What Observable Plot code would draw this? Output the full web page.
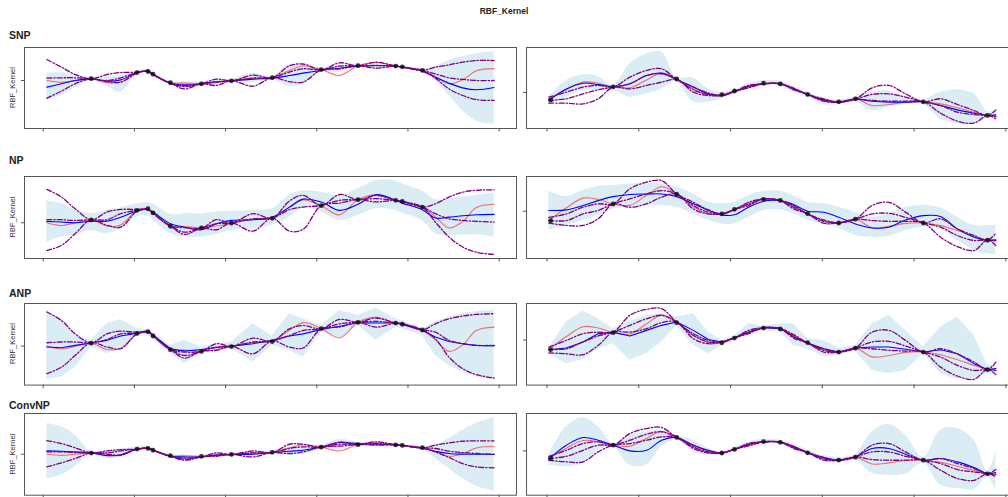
<!DOCTYPE html>
<html><head><meta charset="utf-8">
<script src="https://cdn.jsdelivr.net/npm/d3@7"></script>
<script src="https://cdn.jsdelivr.net/npm/@observablehq/plot@0.6"></script>
<style>
html,body{margin:0;padding:0;background:#fff}
body{width:1008px;height:497px;overflow:hidden;position:relative;font-family:"Liberation Sans",Arial,sans-serif}
</style></head><body>
<script>
// ---------- shared x ticks ----------
const xTicks = [0, 1, 2, 3, 4, 5];
const yTicks = [0];
const rowTitles = ["SNP", "NP", "ANP", "ConvNP"];
const yLabel = "RBF_Kernel";
const mainTitle = "RBF_Kernel";

// ---------- left task ----------
const xLeft = [0.04, 0.2, 0.35, 0.527, 0.7, 0.85, 1.029, 1.149, 1.204, 1.395, 1.55, 1.735, 1.9, 2.064, 2.3, 2.511, 2.7, 2.85, 3.049, 3.25, 3.452, 3.65, 3.865, 3.938, 4.158, 4.3, 4.45, 4.6, 4.75, 4.945];
const redLeft = [0, -0.12, -0.01, 0.12, -0.14, -0.1, 0.53, 0.6, 0.42, -0.15, -0.16, -0.22, -0.14, -0.02, 0.14, 0.19, 0.66, 0.98, 0.73, 0.34, 0.99, 1.2, 0.96, 0.91, 0.67, 0.26, -0.22, 0.05, 0.65, 0.79];
const ctxXLeft = [0.527, 1.029, 1.149, 1.204, 1.395, 1.735, 2.064, 2.511, 3.049, 3.452, 3.865, 3.938, 4.158];
const ctxYLeft = [0.12, 0.53, 0.6, 0.42, -0.15, -0.22, -0.02, 0.19, 0.73, 0.99, 0.96, 0.91, 0.67];

const snpL_mean = [-0.44, -0.22, 0, 0.11, -0.04, 0.04, 0.53, 0.6, 0.4, -0.18, -0.29, -0.22, -0.09, -0.02, 0.09, 0.16, 0.33, 0.49, 0.67, 0.82, 0.96, 1.0, 0.96, 0.89, 0.62, 0.22, -0.18, -0.49, -0.62, -0.47];
const snpL_hi = [0.49, 0.51, 0.36, 0.22, 0.27, 0.33, 0.64, 0.73, 0.53, -0.07, -0.11, -0.09, 0.09, 0.09, 0.49, 0.27, 1.07, 1.0, 0.8, 1.0, 1.09, 1.13, 1.04, 0.98, 0.76, 0.93, 1.33, 1.6, 1.78, 1.93];
const snpL_lo = [-1.33, -1.0, -0.49, 0, -0.4, -0.78, 0.44, 0.53, 0.31, -0.29, -0.49, -0.36, -0.22, -0.11, -0.13, 0, -0.4, -0.27, 0.6, 0.53, 0.89, 0.78, 0.89, 0.8, 0.56, 0, -1.0, -2.0, -2.71, -2.93];
const snpL_s1 = [1.4, 0.89, 0.4, 0.11, 0.4, 0.53, 0.55, 0.62, 0.4, -0.18, -0.33, -0.22, 0.09, -0.02, 0.36, 0.18, 0.98, 1.1, 0.71, 1.18, 0.98, 1.22, 0.96, 0.89, 0.67, 0.89, 1.04, 1.22, 1.33, 1.33];
const snpL_s2 = [0.16, 0.18, 0.18, 0.11, 0, 0.18, 0.53, 0.62, 0.4, -0.18, -0.4, -0.22, -0.09, -0.02, 0.16, 0.18, 0.56, 0.78, 0.71, 0.96, 0.98, 1.0, 0.96, 0.89, 0.67, 0.44, 0.18, 0.07, 0, 0];
const snpL_s3 = [-1.18, -0.71, -0.22, 0.11, -0.07, -0.11, 0.49, 0.62, 0.4, -0.18, -0.56, -0.22, -0.33, -0.02, -0.38, 0.18, -0.07, -0.11, 0.71, 0.78, 0.98, 0.82, 0.96, 0.89, 0.67, 0.16, -0.56, -1.0, -1.27, -1.33];

const npL_mean = [0.06, 0.03, 0, 0.06, 0.07, 0.24, 0.5, 0.56, 0.46, -0.04, -0.19, -0.3, -0.04, 0.1, 0.13, 0.24, 0.67, 1.01, 0.89, 0.53, 0.79, 1.2, 0.96, 0.84, 0.56, 0.2, 0.24, 0.3, 0.34, 0.36];
const npL_hi = [0.93, 0.81, 0.53, 0.39, 0.53, 0.64, 0.81, 0.86, 0.81, 0.36, 0.39, 0.39, 0.46, 0.5, 0.53, 0.6, 1.17, 1.36, 1.31, 1.17, 1.46, 1.81, 1.79, 1.67, 1.36, 0.99, 1.03, 1.1, 1.17, 1.27];
const npL_lo = [-0.83, -0.61, -0.54, -0.33, -0.47, -0.26, 0.24, 0.29, 0.13, -0.47, -0.61, -0.61, -0.5, -0.33, -0.26, -0.11, 0.24, 0.64, 0.46, 0.1, 0.31, 0.6, 0.53, 0.41, 0.1, -0.47, -0.54, -0.54, -0.51, -0.61];
const npL_s1 = [1.43, 1.1, 0.6, 0.13, 0.46, 0.57, 0.57, 0.57, 0.41, -0.14, -0.21, -0.23, 0.13, -0.01, 0.39, 0.2, 0.93, 1.17, 0.74, 1.21, 0.99, 1.17, 0.96, 0.91, 0.67, 0.81, 1.1, 1.31, 1.39, 1.41];
const npL_s2 = [0.13, 0.13, 0.1, 0.13, 0.13, 0.39, 0.53, 0.57, 0.41, -0.14, -0.4, -0.23, -0.04, -0.01, 0.17, 0.2, 0.56, 0.67, 0.74, 0.96, 0.99, 1.03, 0.96, 0.91, 0.67, 0.39, 0.17, 0.1, 0.06, 0.03];
const npL_s3 = [-1.19, -0.97, -0.47, 0.13, -0.11, -0.19, 0.5, 0.57, 0.41, -0.14, -0.5, -0.23, -0.3, -0.01, -0.36, 0.2, -0.36, -0.28, 0.74, 0.84, 0.99, 0.89, 0.96, 0.91, 0.67, 0.03, -0.61, -1.04, -1.26, -1.36];

const anpL_mean = [-0.04, -0.07, 0.03, 0.13, 0.24, 0.42, 0.54, 0.6, 0.47, -0.11, -0.21, -0.14, -0.06, 0, 0.1, 0.24, 0.42, 0.51, 0.69, 0.83, 0.97, 0.96, 0.96, 0.9, 0.65, 0.38, 0.19, 0.1, 0.03, 0.01];
const anpL_hi = [1.49, 1.07, 0.44, 0.24, 0.93, 1.11, 0.72, 0.68, 0.58, 0.03, 0.24, -0.04, 0.1, 0.17, 0.93, 0.42, 1.35, 1.14, 0.86, 1.49, 1.28, 1.58, 1.14, 1.07, 0.72, 1.0, 1.21, 1.35, 1.44, 1.49];
const anpL_lo = [-1.39, -1.29, -0.88, -0.04, -0.32, -0.11, 0.38, 0.44, 0.31, -0.32, -0.74, -0.32, -0.18, -0.11, -0.67, 0.03, -0.18, -0.46, 0.58, 0.31, 0.86, 0.24, 0.79, 0.72, 0.44, -0.39, -0.81, -1.08, -1.29, -1.43];
const anpL_s1 = [1.42, 1.07, 0.51, 0.14, 0.51, 0.62, 0.58, 0.6, 0.44, -0.14, -0.25, -0.21, 0.1, -0.01, 0.33, 0.21, 0.72, 0.86, 0.72, 1.11, 1.0, 1.17, 0.96, 0.93, 0.68, 0.93, 1.14, 1.25, 1.32, 1.35];
const anpL_s2 = [0.14, 0.17, 0.17, 0.14, 0.28, 0.51, 0.54, 0.6, 0.44, -0.14, -0.39, -0.21, -0.04, -0.01, 0.17, 0.21, 0.44, 0.65, 0.72, 0.93, 1.0, 1.03, 0.96, 0.93, 0.68, 0.58, 0.24, 0.1, 0.03, 0.03];
const anpL_s3 = [-1.15, -0.88, -0.39, 0.14, -0.04, -0.11, 0.51, 0.6, 0.44, -0.14, -0.5, -0.21, -0.18, -0.01, -0.32, 0.21, -0.04, -0.08, 0.72, 0.79, 1.0, 0.79, 0.96, 0.93, 0.68, 0.31, -0.46, -0.94, -1.19, -1.33];

const convL_mean = [0.34, 0.31, 0.24, 0.14, -0.15, -0.05, 0.52, 0.62, 0.41, -0.21, -0.28, -0.28, -0.1, -0.03, 0, 0.17, 0.31, 0.41, 0.76, 1.21, 1.1, 1.03, 0.97, 0.9, 0.59, 0.31, 0.07, 0, 0, -0.03];
const convL_hi = [3.17, 2.83, 1.97, 0.31, 0.34, 0.48, 0.76, 0.83, 0.59, -0.07, -0.07, -0.14, 0.14, 0.1, 0.28, 0.38, 0.76, 0.86, 0.93, 1.52, 1.24, 1.17, 1.07, 1.0, 0.76, 0.93, 1.62, 2.48, 3.17, 3.79];
const convL_lo = [-2.55, -2.17, -1.31, 0, -0.45, -0.34, 0.34, 0.41, 0.24, -0.34, -0.45, -0.41, -0.28, -0.17, -0.21, 0, -0.1, 0, 0.55, 0.76, 0.9, 0.83, 0.83, 0.76, 0.48, -0.45, -1.48, -2.52, -3.31, -3.83];
const convL_s1 = [1.41, 1.1, 0.66, 0.14, 0.34, 0.48, 0.52, 0.62, 0.41, -0.21, -0.41, -0.28, 0.14, -0.03, 0.34, 0.17, 1.03, 1.03, 0.72, 1.24, 1.0, 1.28, 0.97, 0.9, 0.66, 0.93, 1.17, 1.34, 1.38, 1.38];
const convL_s2 = [0.24, 0.24, 0.17, 0.14, 0.14, 0.34, 0.52, 0.62, 0.41, -0.21, -0.52, -0.28, -0.07, -0.03, 0.14, 0.17, 0.59, 0.76, 0.72, 1.03, 1.0, 1.1, 0.97, 0.9, 0.66, 0.59, 0.31, 0.17, 0.07, 0];
const convL_s3 = [-1.31, -0.9, -0.45, 0.14, 0, -0.1, 0.52, 0.62, 0.41, -0.21, -0.62, -0.28, -0.21, -0.03, -0.28, 0.17, 0.07, 0.24, 0.72, 0.83, 1.0, 0.93, 0.97, 0.9, 0.66, 0.24, -0.34, -0.97, -1.31, -1.41];

// ---------- right task ----------
const xRight = [0.02, 0.211, 0.393, 0.557, 0.721, 0.903, 1.085, 1.249, 1.413, 1.595, 1.759, 1.905, 2.043, 2.196, 2.36, 2.542, 2.688, 2.84, 3.015, 3.179, 3.361, 3.543, 3.725, 3.907, 4.1, 4.289, 4.471, 4.653, 4.8, 4.891];
const redRight = [-0.5, 0.18, 0.69, 0.62, 0.38, 0.31, 0.84, 1.29, 0.9, 0.24, -0.13, -0.14, 0.1, 0.36, 0.62, 0.57, 0.24, -0.13, -0.49, -0.62, -0.42, -0.87, -0.8, -0.64, -0.62, -0.76, -1.02, -1.31, -1.53, -1.58];
const ctxXRight = [0.04, 0.721, 1.413, 1.905, 2.043, 2.36, 2.542, 2.84, 3.179, 3.361, 4.1, 4.8];
const ctxYRight = [-0.5, 0.38, 0.9, -0.14, 0.1, 0.62, 0.57, -0.13, -0.62, -0.42, -0.62, -1.53];

const snpR_mean = [-0.5, 0.24, 0.62, 0.53, 0.38, 0.58, 1.13, 1.29, 0.87, 0.36, -0.09, -0.2, 0.07, 0.4, 0.58, 0.58, 0.24, -0.13, -0.49, -0.64, -0.44, -0.58, -0.64, -0.64, -0.62, -0.87, -1.16, -1.38, -1.53, -1.49];
const snpR_hi = [-0.31, 0.8, 1.18, 1.07, 0.47, 1.91, 2.58, 2.69, 1.02, 0.96, 0.24, 0.02, 0.18, 0.58, 0.8, 0.76, 0.4, 0.02, -0.36, -0.49, -0.27, 0.02, 0.09, -0.31, -0.47, 0.02, 0.18, -0.09, -1.27, -1.2];
const snpR_lo = [-0.8, -0.31, 0.13, 0.13, 0.13, -0.31, -0.09, 0.24, 0.69, -0.64, -0.64, -0.42, -0.13, 0.24, 0.42, 0.4, 0.02, -0.31, -0.8, -0.8, -0.64, -1.2, -0.98, -0.8, -0.8, -1.76, -2.09, -2.09, -1.76, -1.69];
const snpR_s1 = [-0.31, 0.02, 0.36, 0.47, 0.36, 1.02, 1.47, 1.58, 0.87, 0.36, -0.04, -0.2, 0.07, 0.47, 0.58, 0.58, 0.29, -0.13, -0.42, -0.64, -0.44, 0.31, 0.47, -0.09, -0.62, -0.42, -0.8, -1.2, -1.53, -1.16];
const snpR_s2 = [-0.53, -0.42, -0.09, 0.18, 0.36, 0.58, 1.13, 1.24, 0.87, 0.18, -0.13, -0.2, 0.07, 0.4, 0.58, 0.58, 0.24, -0.13, -0.53, -0.64, -0.44, -0.13, -0.09, -0.31, -0.62, -0.87, -1.31, -1.47, -1.53, -1.6];
const snpR_s3 = [-0.71, -0.71, -0.76, -0.42, 0.36, 0.24, 0.47, 0.69, 0.87, 0.02, -0.2, -0.2, 0.07, 0.31, 0.58, 0.58, 0.18, -0.13, -0.58, -0.64, -0.44, -0.53, -0.58, -0.58, -0.62, -1.38, -1.91, -2.04, -1.53, -1.76];

const npR_mean = [0.04, 0.07, 0.3, 0.56, 0.77, 0.88, 0.91, 0.91, 0.77, 0.39, 0.04, -0.19, -0.19, 0.21, 0.53, 0.56, 0.35, 0, -0.05, -0.32, -0.67, -0.88, -0.84, -0.46, -0.23, -0.28, -0.93, -1.37, -1.54, -1.51];
const npR_hi = [1.05, 0.77, 1.09, 1.3, 1.35, 1.44, 1.47, 1.44, 1.26, 0.91, 0.47, 0.39, 0.47, 0.82, 1.05, 1.05, 0.82, 0.47, 0.39, 0.21, -0.05, -0.32, -0.14, 0.21, 0.3, 0.18, -0.32, -0.75, -0.75, -0.75];
const npR_lo = [-0.98, -0.75, -0.49, -0.23, 0.12, 0.21, 0.3, 0.3, 0.21, -0.14, -0.49, -0.67, -0.67, -0.32, 0.04, 0.07, -0.14, -0.49, -0.67, -0.88, -1.28, -1.37, -1.33, -1.02, -0.84, -0.93, -1.54, -2.04, -2.25, -2.28];
const npR_s1 = [-0.32, -0.14, 0.21, 0.39, 0.39, 1.18, 1.53, 1.61, 0.91, 0.47, 0.07, -0.14, 0.09, 0.47, 0.65, 0.56, 0.3, -0.14, -0.46, -0.61, -0.42, 0.3, 0.47, -0.05, -0.61, -0.4, -0.93, -1.28, -1.51, -1.16];
const npR_s2 = [-0.49, -0.49, -0.14, 0.04, 0.39, 0.65, 0.91, 1.09, 0.91, 0.3, -0.05, -0.14, 0.09, 0.39, 0.65, 0.56, 0.21, -0.14, -0.53, -0.61, -0.42, -0.14, -0.11, -0.32, -0.61, -0.84, -1.28, -1.54, -1.51, -1.54];
const npR_s3 = [-0.63, -0.75, -0.75, -0.4, 0.39, 0.21, 0.39, 0.74, 0.91, 0.12, -0.14, -0.14, 0.09, 0.3, 0.65, 0.56, 0.12, -0.14, -0.63, -0.61, -0.42, -0.49, -0.53, -0.53, -0.61, -1.37, -1.86, -2.07, -1.51, -1.81];

const anpR_mean = [-0.5, -0.41, -0.1, 0.33, 0.41, 0.21, 0.5, 0.76, 0.93, 0.5, 0.03, -0.1, 0.12, 0.41, 0.64, 0.59, 0.16, -0.16, -0.45, -0.62, -0.41, -0.36, -0.36, -0.48, -0.62, -0.5, -0.71, -1.22, -1.52, -1.48];
const anpR_hi = [-0.41, 0.93, 1.5, 1.1, 0.59, 0.97, 1.28, 1.36, 1.19, 1.36, 0.41, -0.02, 0.24, 0.84, 0.72, 0.84, 0.84, 0.07, -0.02, -0.41, -0.28, 0.84, 1.28, 0.5, -0.36, 0.67, 1.19, 0.24, -1.31, -1.31];
const anpR_lo = [-0.71, -1.22, -1.0, -0.45, -0.19, -1.05, -0.71, -0.1, 0.72, -0.28, -0.71, -0.28, -0.02, 0.41, 0.5, 0.41, -0.28, -0.45, -0.88, -0.79, -0.59, -1.57, -1.74, -1.57, -0.71, -1.74, -2.03, -2.0, -1.74, -1.79];
const anpR_s1 = [-0.36, -0.02, 0.33, 0.41, 0.41, 1.28, 1.59, 1.62, 0.93, 0.33, -0.02, -0.1, 0.12, 0.5, 0.64, 0.59, 0.28, -0.16, -0.45, -0.62, -0.41, 0.41, 0.5, -0.02, -0.62, -0.45, -0.71, -1.14, -1.52, -1.14];
const anpR_s2 = [-0.48, -0.45, -0.1, 0.21, 0.41, 0.76, 1.1, 1.28, 0.93, 0.24, -0.1, -0.1, 0.12, 0.41, 0.64, 0.59, 0.19, -0.16, -0.53, -0.62, -0.41, -0.1, -0.07, -0.31, -0.62, -0.88, -1.31, -1.57, -1.52, -1.57];
const anpR_s3 = [-0.66, -0.71, -0.76, -0.28, 0.41, 0.41, 0.59, 0.9, 0.93, 0.07, -0.19, -0.1, 0.12, 0.33, 0.64, 0.59, 0.1, -0.16, -0.62, -0.62, -0.41, -0.45, -0.53, -0.57, -0.62, -1.4, -1.86, -2.03, -1.52, -1.79];

const convR_mean = [-0.55, 0.38, 0.89, 0.71, 0.38, 0, 0.04, 0.71, 0.89, 0.38, 0.04, -0.13, 0.11, 0.44, 0.6, 0.58, 0.27, -0.11, -0.44, -0.62, -0.4, 0.16, 0.16, -0.22, -0.62, -0.51, -0.73, -1.11, -1.51, -1.44];
const convR_hi = [-0.29, 1.6, 2.2, 1.6, 0.49, 1.04, 1.27, 1.38, 1.04, 0.71, 0.16, -0.07, 0.22, 0.6, 0.76, 0.71, 0.44, 0.04, -0.29, -0.44, -0.22, 1.27, 1.78, 1.04, -0.44, 1.38, 1.49, 0.71, -1.33, -0.07];
const convR_lo = [-0.96, -1.07, -0.84, 0.04, 0.27, -0.96, -0.96, 0.27, 0.76, -0.07, -0.29, -0.29, 0, 0.38, 0.49, 0.44, 0.09, -0.29, -0.62, -0.73, -0.62, -1.51, -1.62, -1.56, -0.84, -2.29, -2.51, -2.58, -1.73, -2.67];
const convR_s1 = [-0.36, 0.04, 0.49, 0.6, 0.38, 1.16, 1.49, 1.56, 0.89, 0.38, 0, -0.13, 0.11, 0.49, 0.6, 0.58, 0.31, -0.11, -0.44, -0.62, -0.4, 0.38, 0.49, -0.07, -0.62, -0.51, -0.84, -1.18, -1.51, -1.24];
const convR_s2 = [-0.51, -0.36, 0.04, 0.38, 0.38, 0.71, 1.11, 1.27, 0.89, 0.27, -0.07, -0.13, 0.11, 0.42, 0.6, 0.58, 0.22, -0.11, -0.53, -0.62, -0.4, -0.07, -0.07, -0.36, -0.62, -0.84, -1.24, -1.4, -1.51, -1.56];
const convR_s3 = [-0.62, -0.73, -0.73, -0.07, 0.38, 0.49, 0.71, 0.93, 0.89, 0.16, -0.13, -0.13, 0.11, 0.33, 0.6, 0.58, 0.16, -0.11, -0.62, -0.62, -0.4, -0.58, -0.62, -0.62, -0.62, -1.29, -1.84, -1.96, -1.51, -1.73];

// ---------- axis limits (data units) ----------
const xDomLeft = [-0.205, 5.19];
const xDomRight = [-0.223, 5.134];
const yDoms = {
  snpL: [-3.2, 2.2], npL: [-1.53, 1.98], anpL: [-1.625, 1.775], convL: [-4.24, 4.21],
  snpR: [-2.4, 3.0], npR: [-2.49, 1.83], anpR: [-2.33, 1.89], convR: [-2.95, 2.49]
};

// ---------- layout (pixels) ----------
const rowFrames = [[47, 128], [176, 258], [302.7, 384.3], [413.3, 495]];
const colFrames = [[24, 516], [525.7, 1017.4]];
const titleBase = [39, 164, 296.5, 409];

const panels = [
  {row:0,col:0,key:"snpL",mean:snpL_mean,hi:snpL_hi,lo:snpL_lo,s:[snpL_s1,snpL_s2,snpL_s3]},
  {row:1,col:0,key:"npL",mean:npL_mean,hi:npL_hi,lo:npL_lo,s:[npL_s1,npL_s2,npL_s3]},
  {row:2,col:0,key:"anpL",mean:anpL_mean,hi:anpL_hi,lo:anpL_lo,s:[anpL_s1,anpL_s2,anpL_s3],jag:true},
  {row:3,col:0,key:"convL",mean:convL_mean,hi:convL_hi,lo:convL_lo,s:[convL_s1,convL_s2,convL_s3]},
  {row:0,col:1,key:"snpR",mean:snpR_mean,hi:snpR_hi,lo:snpR_lo,s:[snpR_s1,snpR_s2,snpR_s3]},
  {row:1,col:1,key:"npR",mean:npR_mean,hi:npR_hi,lo:npR_lo,s:[npR_s1,npR_s2,npR_s3]},
  {row:2,col:1,key:"anpR",mean:anpR_mean,hi:anpR_hi,lo:anpR_lo,s:[anpR_s1,anpR_s2,anpR_s3],jag:true},
  {row:3,col:1,key:"convR",mean:convR_mean,hi:convR_hi,lo:convR_lo,s:[convR_s1,convR_s2,convR_s3]}
];

const axisColor = "#555";
const mL = 6, mR = 1, mT = 1, mB = 6;

for (const p of panels) {
  const left = p.col === 0;
  const xs = left ? xLeft : xRight;
  const red = left ? redLeft : redRight;
  const cx = left ? ctxXLeft : ctxXRight;
  const cy = left ? ctxYLeft : ctxYRight;
  const rows = xs.map((x, i) => ({x, red: red[i], mean: p.mean[i], lo: p.lo[i], hi: p.hi[i], s1: p.s[0][i], s2: p.s[1][i], s3: p.s[2][i]}));
  const ctx = cx.map((x, i) => ({x, y: cy[i]}));
  const [fl, fr] = colFrames[p.col];
  const [ft, fb] = rowFrames[p.row];
  const bandCurve = p.jag ? "linear" : "catmull-rom";
  const meanCurve = p.jag ? "linear" : "catmull-rom";
  const dash = "5,2,1.3,2";
  const chart = Plot.plot({
    width: fr - fl + mL + mR,
    height: fb - ft + mT + mB,
    marginLeft: mL, marginRight: mR, marginTop: mT, marginBottom: mB,
    x: {domain: left ? xDomLeft : xDomRight},
    y: {domain: yDoms[p.key]},
    marks: [
      Plot.areaY(rows, {x: "x", y1: "lo", y2: "hi", fill: "#add8e6", fillOpacity: 0.45, curve: bandCurve}),
      Plot.lineY(rows, {x: "x", y: "red", stroke: "red", strokeOpacity: 0.55, strokeWidth: 1.1, curve: "catmull-rom"}),
      Plot.lineY(rows, {x: "x", y: "mean", stroke: "blue", strokeWidth: 1.1, curve: meanCurve}),
      Plot.lineY(rows, {x: "x", y: "s1", stroke: "purple", strokeWidth: 1.3, strokeDasharray: dash, curve: "catmull-rom"}),
      Plot.lineY(rows, {x: "x", y: "s2", stroke: "purple", strokeWidth: 1.3, strokeDasharray: dash, curve: "catmull-rom"}),
      Plot.lineY(rows, {x: "x", y: "s3", stroke: "purple", strokeWidth: 1.3, strokeDasharray: dash, curve: "catmull-rom"}),
      Plot.dot(ctx, {x: "x", y: "y", r: 2.4, fill: "#111", fillOpacity: 0.85}),
      Plot.frame({stroke: axisColor, strokeWidth: 1}),
      Plot.axisX({ticks: xTicks, tickSize: 3.5, tickFormat: () => "", stroke: axisColor, label: null}),
      Plot.axisY({ticks: yTicks, tickSize: 3, tickFormat: () => "", stroke: axisColor, label: null})
    ]
  });
  chart.style.position = "absolute";
  chart.style.left = (fl - mL) + "px";
  chart.style.top = (ft - mT) + "px";
  chart.style.background = "transparent";
  chart.style.maxWidth = "none";
  chart.style.overflow = "visible";
  document.body.appendChild(chart);
}

// ---------- titles overlay ----------
const ns = "http://www.w3.org/2000/svg";
const ov = document.createElementNS(ns, "svg");
ov.setAttribute("width", 1008); ov.setAttribute("height", 497);
ov.style.position = "absolute"; ov.style.left = "0"; ov.style.top = "0"; ov.style.pointerEvents = "none";
function txt(s, attrs) {
  const t = document.createElementNS(ns, "text");
  for (const k in attrs) t.setAttribute(k, attrs[k]);
  t.textContent = s; ov.appendChild(t);
}
txt(mainTitle, {x: 504, y: 14, "text-anchor": "middle", "font-size": 8.5, "font-weight": "bold", fill: "#222", "font-family": "Liberation Sans, Arial, sans-serif"});
rowTitles.forEach((s, i) => {
  txt(s, {x: 9, y: titleBase[i], "font-size": 10.5, "font-weight": "bold", fill: "#222", "font-family": "Liberation Sans, Arial, sans-serif"});
  const [ft, fb] = rowFrames[i];
  txt(yLabel, {transform: `translate(15,${(ft + fb) / 2}) rotate(-90)`, "text-anchor": "middle", "font-size": 7.5, fill: "#333", "font-family": "Liberation Sans, Arial, sans-serif"});
});
document.body.appendChild(ov);
</script>
</body></html>
